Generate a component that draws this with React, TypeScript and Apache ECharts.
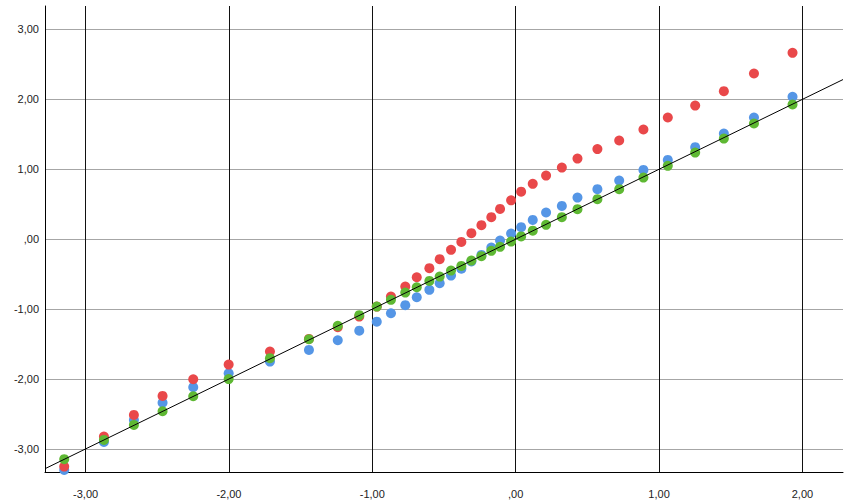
import React, { useEffect, useRef } from "react";
import * as echarts from "echarts";

// Expected normal quantiles (x) shared by the three series
const xValues = [
  -3.149, -2.872, -2.663, -2.463, -2.249, -2.002, -1.714, -1.442, -1.241, -1.091,
  -0.969, -0.87, -0.77, -0.69, -0.602, -0.53, -0.451, -0.379, -0.309, -0.239,
  -0.17, -0.109, -0.032, 0.038, 0.119, 0.212, 0.322, 0.431, 0.57, 0.722,
  0.891, 1.061, 1.252, 1.452, 1.662, 1.931,
];

const redValues = [
  -3.253, -2.824, -2.514, -2.242, -2.003, -1.794, -1.608, -1.426, -1.259, -1.107,
  -0.964, -0.821, -0.678, -0.544, -0.415, -0.286, -0.153, -0.039, 0.086, 0.2,
  0.315, 0.433, 0.555, 0.68, 0.791, 0.91, 1.024, 1.153, 1.288, 1.411,
  1.568, 1.74, 1.911, 2.117, 2.369, 2.665,
];

const blueValues = [
  -3.3, -2.9, -2.585, -2.338, -2.117, -1.917, -1.751, -1.584, -1.445, -1.308,
  -1.18, -1.059, -0.944, -0.83, -0.725, -0.629, -0.521, -0.422, -0.318, -0.225,
  -0.12, -0.02, 0.08, 0.172, 0.276, 0.381, 0.476, 0.595, 0.715, 0.838,
  0.991, 1.134, 1.316, 1.511, 1.74, 2.036,
];

const greenValues = [
  -3.146, -2.871, -2.657, -2.461, -2.246, -2.001, -1.702, -1.431, -1.24, -1.087,
  -0.964, -0.868, -0.764, -0.687, -0.597, -0.535, -0.449, -0.382, -0.306, -0.243,
  -0.167, -0.11, -0.034, 0.04, 0.122, 0.205, 0.315, 0.429, 0.572, 0.715,
  0.881, 1.049, 1.239, 1.439, 1.654, 1.926,
];

const xMin = -3.283;
const xMax = 2.283;
const yMin = -3.33;
const yMax = 3.335;

const fmt = (v: number) => {
  if (Math.abs(v - Math.round(v)) > 1e-6) return "";
  const r = Math.round(v);
  if (r === 0) return ",00";
  return r.toFixed(2).replace(".", ",");
};

export default function App() {
  const ref = useRef<HTMLDivElement>(null);
  useEffect(() => {
    if (!ref.current) return;
    const chart = echarts.init(ref.current, undefined, { renderer: "svg" });
    const pts = (ys: number[]) => xValues.map((x, i) => [x, ys[i]]);
    const textStyle = {
      color: "#222",
      fontSize: 11,
      fontFamily: "Liberation Sans, Arial, sans-serif",
    };
    chart.setOption({
      animation: false,
      backgroundColor: "#ffffff",
      grid: { left: 45, right: 10, top: 6, bottom: 31, containLabel: false },
      xAxis: {
        type: "value",
        min: xMin,
        max: xMax,
        splitNumber: 5,
        axisLine: { show: true, onZero: false, lineStyle: { color: "#000", width: 1 } },
        axisTick: { show: false },
        axisLabel: { ...textStyle, margin: 16, formatter: fmt, showMinLabel: true, showMaxLabel: true },
        splitLine: {
          show: true,
          showMinLine: false,
          showMaxLine: false,
          lineStyle: { color: "#111", width: 1 },
        },
      },
      yAxis: {
        type: "value",
        min: yMin,
        max: yMax,
        splitNumber: 6,
        axisLine: { show: true, onZero: false, lineStyle: { color: "#000", width: 1 } },
        axisTick: { show: false },
        axisLabel: { ...textStyle, margin: 6, formatter: fmt },
        splitLine: {
          show: true,
          showMinLine: false,
          showMaxLine: false,
          lineStyle: { color: "#a6a6a6", width: 1 },
        },
      },
      series: [
        {
          name: "Blue",
          type: "scatter",
          symbolSize: 10,
          itemStyle: { color: "#5596e6", opacity: 1 },
          data: pts(blueValues),
          z: 2,
        },
        {
          name: "Red",
          type: "scatter",
          symbolSize: 10,
          itemStyle: { color: "#e9484a", opacity: 1 },
          data: pts(redValues),
          z: 3,
        },
        {
          name: "Green",
          type: "scatter",
          symbolSize: 10,
          itemStyle: { color: "#5eb833", opacity: 1 },
          data: pts(greenValues),
          z: 4,
        },
        {
          name: "Reference",
          type: "line",
          symbol: "none",
          silent: true,
          lineStyle: { color: "#000", width: 1 },
          data: [
            [xMin, xMin],
            [xMax, xMax],
          ],
          z: 5,
        },
      ],
    });
    return () => chart.dispose();
  }, []);
  return (
    <div
      ref={ref}
      style={{ position: "fixed", left: 0, top: 0, width: 853, height: 503 }}
    />
  );
}
